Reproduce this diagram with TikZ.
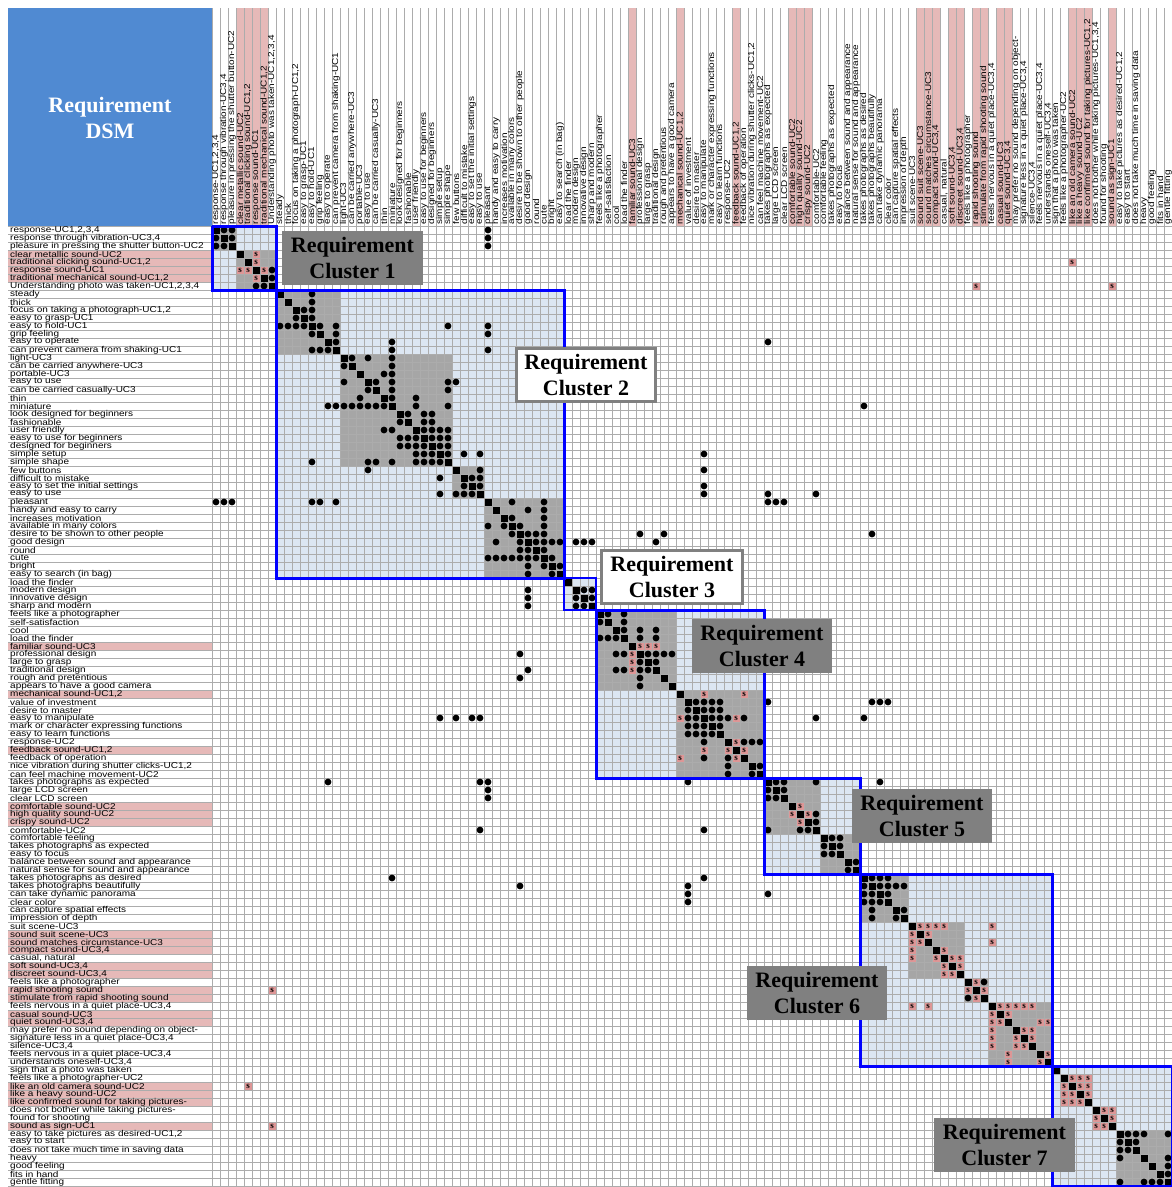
\documentclass[tikz,border=0pt]{standalone}
\usepackage{fontspec}
\usepackage{graphicx}
\setmainfont{Liberation Serif}
\newfontfamily\lblfont{Liberation Sans}
\definecolor{dsmblue}{RGB}{80,138,210}
\definecolor{rowpink}{RGB}{230,185,184}
\definecolor{scell}{RGB}{222,150,150}
\definecolor{clusterfill}{RGB}{220,230,242}
\definecolor{blockfill}{RGB}{166,166,166}
\definecolor{gridc}{RGB}{172,172,172}
\definecolor{labgray}{RGB}{128,128,128}

% cell centre of row #1, column #2
\newcommand\cellxy[2]{({8*#2+208},{8*#1+222})}
\newcommand\rowtxt[2]{\node[rowlbl] (r#1) at (10,{8*#1+222}) {\scalebox{1}[0.85]{#2}};}
\newcommand\coltxt[2]{\node[collbl] (c#1) at ({8*#1+208},224.5) {\scalebox{1}[0.85]{#2}};}
\newcommand\both[2]{\rowtxt{#1}{#2}\coltxt{#1}{#2}}

\begin{document}
\begin{tikzpicture}[x=1pt,y=-1pt,
  rowlbl/.style={anchor=west,inner sep=0pt,font=\lblfont\fontsize{10}{10}\selectfont},
  collbl/.style={anchor=west,rotate=90,inner sep=0pt,font=\lblfont\fontsize{10}{10}\selectfont},
  gridline/.style={draw=gridc,line width=0.8pt},
  clusterbox/.style={draw=blue,line width=3pt},
  darklabel/.style={fill=labgray},
  lightlabel/.style={fill=white,draw=labgray,line width=3pt},
  labeltext/.style={font=\bfseries\fontsize{22}{26}\selectfont,align=center,inner sep=0pt},
  sletter/.style={font=\bfseries\fontsize{9}{9}\selectfont,inner sep=0pt},
  dot/.style={fill=black}
]
\useasboundingbox (0,0) rectangle (1172,1187);
\fill[white] (0,0) rectangle (1172,1187);

% pink rows and columns (sound requirements)
\foreach \p in {4,5,6,7,53,59,66,73,74,75,89,90,91,93,94,96,97,99,100,108,109,110,113}{
  \fill[rowpink] (8,{8*\p+218}) rectangle (212,{8*\p+226});
  \fill[rowpink] ({8*\p+204},8) rectangle ({8*\p+212},226);
}

% cluster areas
\foreach \s/\e in {1/8,9/44,45/48,49/69,70/81,82/105,106/120}
  \fill[clusterfill] ({8*\s+204},{8*\s+218}) rectangle ({8*\e+212},{8*\e+226});
% sub-blocks
\foreach \s/\e in {1/3,4/8,9/16,17/30,31/34,35/44,49/58,59/69,70/76,77/81,82/87,88/94,95/97,98/105,114/120}
  \fill[blockfill] ({8*\s+204},{8*\s+218}) rectangle ({8*\e+212},{8*\e+226});

% sound-related cells
\foreach \r/\c in {4/6,5/6,6/7,5/108,8/96,8/113,
  53/54,53/55,53/56,59/62,59/67,62/66,65/66,66/67,
  73/74,74/75,
  88/89,88/90,88/91,88/92,88/98,89/90,90/98,91/92,92/93,92/94,93/94,95/96,96/97,
  98/99,98/100,98/101,98/102,98/103,99/100,100/104,100/105,101/102,101/103,102/103,104/105,
  107/108,107/109,107/110,108/109,108/110,109/110,111/112,111/113,112/113}{
  \fill[scell] ({8*\c+204.5},{8*\r+218.5}) rectangle ({8*\c+211.5},{8*\r+225.5});
  \fill[scell] ({8*\r+204.5},{8*\c+218.5}) rectangle ({8*\r+211.5},{8*\c+225.5});
}

% grid
\foreach \k in {0,...,120}{
  \draw[gridline] ({212+8*\k},8) -- ({212+8*\k},1186);
  \draw[gridline] (8,{226+8*\k}) -- (1172,{226+8*\k});
}

% diagonal
\foreach \i in {1,...,120}
  \fill[black] ({8*\i+204.5},{8*\i+218.5}) rectangle ({8*\i+211.5},{8*\i+225.5});

% letters in sound-related cells
\foreach \r/\c in {4/6,5/6,6/7,5/108,8/96,8/113,
  53/54,53/55,53/56,59/62,59/67,62/66,65/66,66/67,
  73/74,74/75,
  88/89,88/90,88/91,88/92,88/98,89/90,90/98,91/92,92/93,92/94,93/94,95/96,96/97,
  98/99,98/100,98/101,98/102,98/103,99/100,100/104,100/105,101/102,101/103,102/103,104/105,
  107/108,107/109,107/110,108/109,108/110,109/110,111/112,111/113,112/113}{
  \node[sletter] at \cellxy{\r}{\c} {s};
  \node[sletter] at \cellxy{\c}{\r} {s};
}

% dependencies (symmetric)
\foreach \r/\c in {1/2,1/3,2/3,6/8,7/8,1/35,2/35,3/35,
  9/13,10/13,11/12,11/13,12/13,13/14,13/16,13/30,13/35,14/16,14/35,15/16,15/23,15/70,16/23,16/35,
  17/18,17/20,17/23,18/23,19/22,19/23,20/21,20/23,20/30,20/31,21/23,21/30,22/23,22/26,23/26,23/30,23/82,
  24/25,24/27,24/28,25/27,25/28,26/27,26/28,26/29,26/30,27/28,27/29,27/30,28/29,28/30,29/30,
  29/32,29/34,29/62,31/34,31/62,32/33,32/34,33/34,33/62,34/62,34/70,34/76,
  35/38,35/42,35/70,35/71,35/72,
  36/40,36/42,37/38,37/42,38/39,38/42,39/40,39/41,39/42,39/54,39/57,39/83,
  40/41,40/42,40/43,40/44,40/46,40/47,40/48,40/56,41/42,42/43,43/44,
  46/47,46/48,47/48,
  49/50,49/52,50/52,51/52,51/54,51/56,52/54,52/56,54/55,54/56,54/57,54/58,55/56,
  60/61,60/62,60/63,60/64,61/62,61/63,61/64,62/63,62/64,62/65,62/67,63/64,65/67,65/68,65/69,68/69,
  60/70,62/76,60/83,60/84,60/85,62/82,70/84,
  70/71,70/72,70/76,71/72,74/76,75/76,77/78,77/79,78/79,80/81,
  82/83,82/84,82/85,83/84,83/85,84/85,83/86,83/87,86/87,95/97,
  114/115,114/116,114/117,114/120,115/116,117/120,118/120,119/120}{
  \fill[dot] \cellxy{\r}{\c} circle (3.4pt);
  \fill[dot] \cellxy{\c}{\r} circle (3.4pt);
}

% cluster borders
\foreach \s/\e in {1/8,9/44,49/69,70/81,82/105,106/120}
  \draw[clusterbox] ({8*\s+204},{8*\s+218}) rectangle ({8*\e+212},{8*\e+226});
\draw[draw=blue,line width=1.5pt] (564,578) rectangle (596,610);

% cluster labels
\node[darklabel,minimum width=141pt,minimum height=54pt] (k1) at (352.5,258) {};
\node[labeltext] at (k1) {Requirement\\Cluster 1};
\node[lightlabel,minimum width=139pt,minimum height=53pt] (k2) at (586,375) {};
\node[labeltext] at (k2) {Requirement\\Cluster 2};
\node[lightlabel,minimum width=141pt,minimum height=53pt] (k3) at (672,577) {};
\node[labeltext] at (k3) {Requirement\\Cluster 3};
\node[darklabel,minimum width=140pt,minimum height=54pt] (k4) at (762,646) {};
\node[labeltext] at (k4) {Requirement\\Cluster 4};
\node[darklabel,minimum width=140pt,minimum height=54pt] (k5) at (922,816) {};
\node[labeltext] at (k5) {Requirement\\Cluster 5};
\node[darklabel,minimum width=140pt,minimum height=54pt] (k6) at (817,992.5) {};
\node[labeltext] at (k6) {Requirement\\Cluster 6};
\node[darklabel,minimum width=141pt,minimum height=54pt] (k7) at (1004.5,1144.5) {};
\node[labeltext] at (k7) {Requirement\\Cluster 7};

% title block
\fill[dsmblue] (8,8) rectangle (212,226);
\node[labeltext,text=white] (title) at (110,117.5) {Requirement\\DSM};

% requirement names
\both{1}{response-UC1,2,3,4}
\both{2}{response through vibration-UC3,4}
\both{3}{pleasure in pressing the shutter button-UC2}
\both{4}{clear metallic sound-UC2}
\both{5}{traditional clicking sound-UC1,2}
\both{6}{response sound-UC1}
\both{7}{traditional mechanical sound-UC1,2}
\both{8}{Understanding photo was taken-UC1,2,3,4}
\both{9}{steady}
\both{10}{thick}
\both{11}{focus on taking a photograph-UC1,2}
\both{12}{easy to grasp-UC1}
\both{13}{easy to hold-UC1}
\both{14}{grip feeling}
\both{15}{easy to operate}
\both{16}{can prevent camera from shaking-UC1}
\both{17}{light-UC3}
\both{18}{can be carried anywhere-UC3}
\both{19}{portable-UC3}
\both{20}{easy to use}
\both{21}{can be carried casually-UC3}
\both{22}{thin}
\both{23}{miniature}
\both{24}{look designed for beginners}
\both{25}{fashionable}
\both{26}{user friendly}
\both{27}{easy to use for beginners}
\both{28}{designed for beginners}
\both{29}{simple setup}
\both{30}{simple shape}
\both{31}{few buttons}
\both{32}{difficult to mistake}
\both{33}{easy to set the initial settings}
\both{34}{easy to use}
\both{35}{pleasant}
\both{36}{handy and easy to carry}
\both{37}{increases motivation}
\both{38}{available in many colors}
\both{39}{desire to be shown to other people}
\both{40}{good design}
\both{41}{round}
\both{42}{cute}
\both{43}{bright}
\both{44}{easy to search (in bag)}
\both{45}{load the finder}
\both{46}{modern design}
\both{47}{innovative design}
\both{48}{sharp and modern}
\both{49}{feels like a photographer}
\both{50}{self-satisfaction}
\both{51}{cool}
\both{52}{load the finder}
\both{53}{familiar sound-UC3}
\both{54}{professional design}
\both{55}{large to grasp}
\both{56}{traditional design}
\both{57}{rough and pretentious}
\both{58}{appears to have a good camera}
\both{59}{mechanical sound-UC1,2}
\both{60}{value of investment}
\both{61}{desire to master}
\both{62}{easy to manipulate}
\both{63}{mark or character expressing functions}
\both{64}{easy to learn functions}
\both{65}{response-UC2}
\both{66}{feedback sound-UC1,2}
\both{67}{feedback of operation}
\both{68}{nice vibration during shutter clicks-UC1,2}
\both{69}{can feel machine movement-UC2}
\both{70}{takes photographs as expected}
\both{71}{large LCD screen}
\both{72}{clear LCD screen}
\both{73}{comfortable sound-UC2}
\both{74}{high quality sound-UC2}
\both{75}{crispy sound-UC2}
\both{76}{comfortable-UC2}
\both{77}{comfortable feeling}
\both{78}{takes photographs as expected}
\both{79}{easy to focus}
\both{80}{balance between sound and appearance}
\both{81}{natural sense for sound and appearance}
\both{82}{takes photographs as desired}
\both{83}{takes photographs beautifully}
\both{84}{can take dynamic panorama}
\both{85}{clear color}
\both{86}{can capture spatial effects}
\both{87}{impression of depth}
\both{88}{suit scene-UC3}
\both{89}{sound suit scene-UC3}
\both{90}{sound matches circumstance-UC3}
\both{91}{compact sound-UC3,4}
\both{92}{casual, natural}
\both{93}{soft sound-UC3,4}
\both{94}{discreet sound-UC3,4}
\both{95}{feels like a photographer}
\both{96}{rapid shooting sound}
\both{97}{stimulate from rapid shooting sound}
\both{98}{feels nervous in a quiet place-UC3,4}
\both{99}{casual sound-UC3}
\both{100}{quiet sound-UC3,4}
\both{101}{may prefer no sound depending on object-}
\both{102}{signature less in a quiet place-UC3,4}
\both{103}{silence-UC3,4}
\both{104}{feels nervous in a quiet place-UC3,4}
\both{105}{understands oneself-UC3,4}
\both{106}{sign that a photo was taken}
\both{107}{feels like a photographer-UC2}
\both{108}{like an old camera sound-UC2}
\both{109}{like a heavy sound-UC2}
\rowtxt{110}{like confirmed sound for taking pictures-}
\coltxt{110}{like confirmed sound for taking pictures-UC1,2}
\rowtxt{111}{does not bother while taking pictures-}
\coltxt{111}{does not bother while taking pictures-UC1,3,4}
\both{112}{found for shooting}
\both{113}{sound as sign-UC1}
\both{114}{easy to take pictures as desired-UC1,2}
\both{115}{easy to start}
\both{116}{does not take much time in saving data}
\both{117}{heavy}
\both{118}{good feeling}
\both{119}{fits in hand}
\both{120}{gentle fitting}
\end{tikzpicture}
\end{document}
